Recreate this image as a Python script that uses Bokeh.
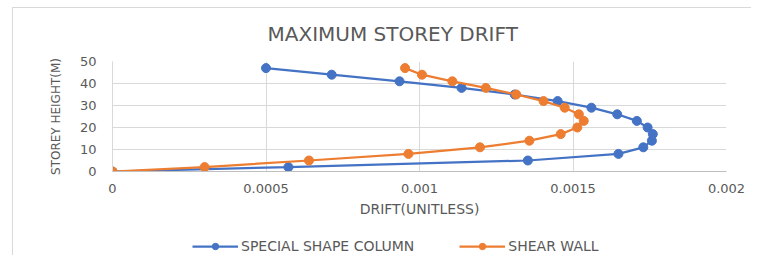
from bokeh.plotting import figure
from bokeh.models import (Range1d, FixedTicker, NumeralTickFormatter, Legend, LegendItem, Title)
from bokeh.layouts import column
from bokeh.embed import file_html
from bokeh.resources import INLINE

# ---- data ----
storey_height = [0, 2, 5, 8, 11, 14, 17, 20, 23, 26, 29, 32, 35, 38, 41, 44, 47]
special_shape_column = [0, 0.000573, 0.001353, 0.001648, 0.001729, 0.001757, 0.00176,
                        0.001743, 0.001708, 0.001644, 0.00156, 0.00145, 0.00131,
                        0.001137, 0.000935, 0.000714, 0.0005]
shear_wall = [0, 0.0003, 0.00064, 0.000964, 0.001197, 0.001358, 0.00146, 0.001514,
              0.001535, 0.001519, 0.001473, 0.001404, 0.001315, 0.001216, 0.001107,
              0.001008, 0.000953]
x_ticks = [0, 0.0005, 0.001, 0.0015, 0.002]
y_ticks = [0, 10, 20, 30, 40, 50]
series_names = ["SPECIAL SHAPE COLUMN", "SHEAR WALL"]
title_text = "MAXIMUM STOREY DRIFT"
x_label = "DRIFT(UNITLESS)"
y_label = "STOREY HEIGHT(M)"

BLUE = "#4472C4"
ORANGE = "#ED7D31"
TXT = "#595959"
FONT = "DejaVu Sans"

p = figure(width=751, height=219, output_backend="svg", toolbar_location=None,
           x_range=Range1d(0, 0.002), y_range=Range1d(0, 50),
           min_border_left=112, min_border_right=25, min_border_top=61,
           min_border_bottom=48)
p.border_fill_alpha = 0
p.outline_line_color = None
p.styles = {"box-shadow": "inset 12px 0 0 0 white, inset 0 7px 0 0 white, "
                          "inset 13px 0 0 0 #d9d9d9, inset 0 8px 0 0 #d9d9d9"}

# title
p.title = Title(text=title_text, align="left", offset=155, standoff=31,
                text_font=FONT, text_font_size="20px", text_font_style="normal",
                text_color=TXT)

# axes
p.xaxis.ticker = FixedTicker(ticks=x_ticks)
p.yaxis.ticker = FixedTicker(ticks=y_ticks)
p.xaxis.formatter = NumeralTickFormatter(format="0.[0000]")
for ax in (p.xaxis[0], p.yaxis[0]):
    ax.major_tick_line_color = None
    ax.minor_tick_line_color = None
    ax.major_label_text_font = FONT
    ax.major_label_text_font_size = "13px"
    ax.major_label_text_color = TXT
    ax.axis_label_text_font = FONT
    ax.axis_label_text_font_style = "normal"
    ax.axis_label_text_color = TXT
p.xaxis.axis_line_color = "#BFBFBF"
p.yaxis.axis_line_color = "#D9D9D9"
p.xaxis.axis_label = x_label
p.xaxis.axis_label_text_font_size = "14px"
p.xaxis.major_label_standoff = 6
p.xaxis.axis_label_standoff = 5
p.yaxis.axis_label = y_label
p.yaxis.axis_label_text_font_size = "12px"
p.yaxis.major_label_standoff = 10
p.yaxis.axis_label_standoff = 14

p.xgrid.grid_line_color = "#D9D9D9"
p.ygrid.grid_line_color = "#D9D9D9"

# series
p.line(special_shape_column, storey_height, line_color=BLUE, line_width=2.25)
p.scatter(special_shape_column, storey_height, size=9, fill_color=BLUE, line_color=BLUE)
p.line(shear_wall, storey_height, line_color=ORANGE, line_width=2.25)
p.scatter(shear_wall, storey_height, size=9, fill_color=ORANGE, line_color=ORANGE)

# legend strip (its renderers use the same series but lie outside its view range)
q = figure(width=751, height=36, output_backend="svg", toolbar_location=None,
           x_range=Range1d(0, 0.002), y_range=Range1d(100, 101),
           x_axis_type=None, y_axis_type=None,
           min_border_left=0, min_border_right=0, min_border_top=0, min_border_bottom=0)
q.grid.visible = False
q.outline_line_color = None
q.border_fill_alpha = 0
q.background_fill_alpha = 0
q.styles = {"box-shadow": "inset 12px 0 0 0 white, inset 13px 0 0 0 #d9d9d9"}
ql1 = q.line(special_shape_column, storey_height, line_color=BLUE, line_width=2.25)
qs1 = q.scatter(special_shape_column, storey_height, size=9, fill_color=BLUE, line_color=BLUE)
ql2 = q.line(shear_wall, storey_height, line_color=ORANGE, line_width=2.25)
qs2 = q.scatter(shear_wall, storey_height, size=9, fill_color=ORANGE, line_color=ORANGE)

legend = Legend(items=[LegendItem(label=series_names[0], renderers=[ql1, qs1]),
                       LegendItem(label=series_names[1], renderers=[ql2, qs2])],
                orientation="horizontal", location=(80, 1),
                glyph_width=46, glyph_height=16, label_standoff=3, spacing=45,
                padding=0, margin=0, background_fill_alpha=0, border_line_alpha=0,
                label_text_font=FONT, label_text_font_size="14px", label_text_color=TXT)
q.add_layout(legend, "center")

layout = column(p, q, spacing=0)
open("out.html", "w").write(file_html(layout, INLINE))
